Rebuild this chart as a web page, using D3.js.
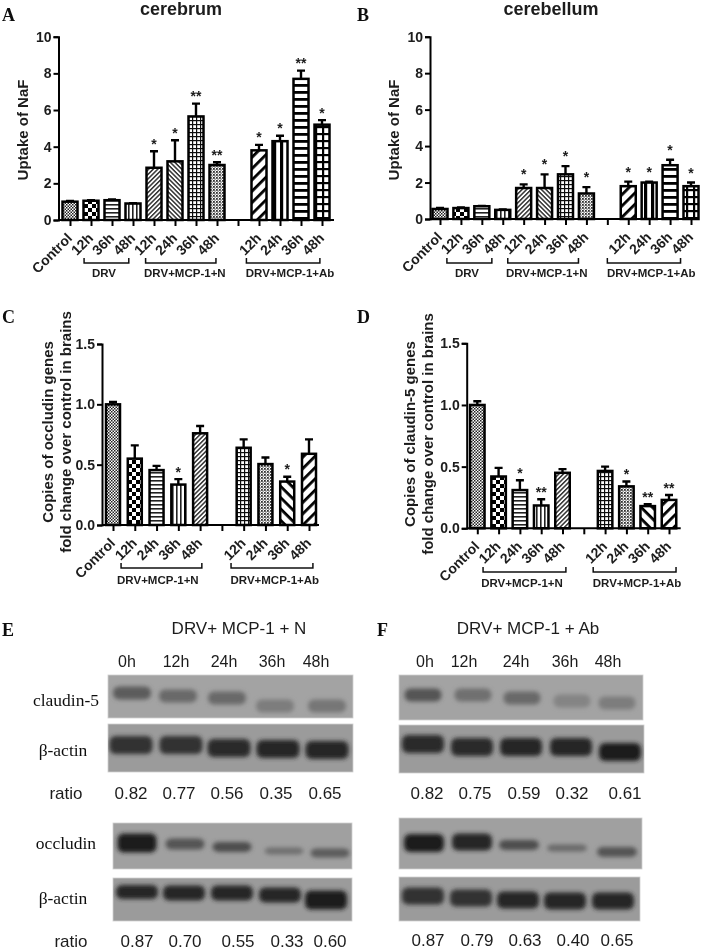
<!DOCTYPE html>
<html><head><meta charset="utf-8">
<script src="https://cdn.jsdelivr.net/npm/d3@7"></script>
<style>
html,body{margin:0;padding:0;background:#fff}
svg{display:block}
text{font-family:"Liberation Sans",Arial,sans-serif;fill:#1c1c1c}
.serif{font-family:"Liberation Serif",serif;fill:#111}
</style></head><body>
<svg id="c" width="708" height="951"></svg>
<script>
// ---------- DATA ----------
const categoriesA = ["Control","12h","36h","48h","12h","24h","36h","48h","","12h","24h","36h","48h"];
const categoriesC = ["Control","12h","24h","36h","48h","","12h","24h","36h","48h"];
const valuesA = [1.0,1.05,1.08,0.9,2.85,3.2,5.65,3.0,null,3.8,4.3,7.7,5.2];
const upperA  = [1.04,1.08,1.12,0.92,3.75,4.35,6.35,3.15,null,4.1,4.6,8.15,5.45];
const starsA  = ["","","","","*","*","**","**","","*","*","**","*"];
const valuesB = [0.55,0.6,0.7,0.5,1.7,1.7,2.45,1.4,null,1.8,2.0,2.95,1.8];
const upperB  = [0.6,0.63,0.72,0.52,1.9,2.45,2.9,1.75,null,2.05,2.05,3.25,2.0];
const starsB  = ["","","","","*","*","*","*","","*","*","*","*"];
const valuesC = [1.0,0.55,0.455,0.335,0.76,null,0.64,0.505,0.36,0.59];
const upperC  = [1.02,0.66,0.49,0.38,0.82,null,0.71,0.56,0.40,0.71];
const starsC  = ["","","","*","","","","","*",""];
const valuesD = [1.0,0.42,0.31,0.185,0.45,null,0.465,0.34,0.18,0.23];
const upperD  = [1.03,0.49,0.39,0.235,0.48,null,0.50,0.38,0.195,0.27];
const starsD  = ["","","*","**","","","","*","**","**"];
const lanes = ["0h","12h","24h","36h","48h"];
const ratioE1 = ["0.82","0.77","0.56","0.35","0.65"];
const ratioE2 = ["0.87","0.70","0.55","0.33","0.60"];
const ratioF1 = ["0.82","0.75","0.59","0.32","0.61"];
const ratioF2 = ["0.87","0.79","0.63","0.40","0.65"];
const claudinE = [.55,.45,.45,.3,.35];
const actinE1  = [.85,.85,.9,.95,.95];
const occludinE= [1,.6,.65,.4,.55];
const actinE2  = [.95,.95,.95,.95,1];
const claudinF = [.6,.4,.45,.25,.3];
const actinF1  = [.9,.9,.95,.95,1];
const occludinF= [1,.95,.65,.45,.6];
const actinF2  = [.85,.85,.95,.95,.95];

// ---------- STYLE / LAYOUT ----------
const root = d3.select("#c");
const defs = root.append("defs");
defs.append("filter").attr("id","soft").attr("filterUnits","userSpaceOnUse").attr("x",0).attr("y",0).attr("width",708).attr("height",951)
  .append("feGaussianBlur").attr("stdDeviation",0.4);
const svg = root.append("g").attr("filter","url(#soft)");
function pat(id,w,h,draw,rot){
  const p = defs.append("pattern").attr("id",id).attr("patternUnits","userSpaceOnUse").attr("width",w).attr("height",h);
  if(rot) p.attr("patternTransform",`rotate(${rot})`);
  p.append("rect").attr("width",w).attr("height",h).attr("fill","#fff");
  draw(p);
}
const R=(p,x,y,w,h,f="#000")=>p.append("rect").attr("x",x).attr("y",y).attr("width",w).attr("height",h).attr("fill",f);
pat("dense",3,3,p=>{R(p,0,0,1.5,1.5,"#222");R(p,1.5,1.5,1.5,1.5,"#222");});
pat("check",8,8,p=>{R(p,0,0,4,4);R(p,4,4,4,4);});
pat("hl",4,4,p=>R(p,0,0,4,1.6,"#222"));
pat("vl",4,4,p=>R(p,0,0,1.6,4,"#222"));
pat("df",3.2,3.2,p=>R(p,0,0,3.2,1.5,"#333"),-45);
pat("db",3.2,3.2,p=>R(p,0,0,3.2,1.5,"#333"),45);
pat("grid",4,4,p=>{R(p,0,0,4,1.2,"#111");R(p,0,0,1.2,4,"#111");});
pat("dots",3,3,p=>{R(p,0,0,1.8,1.8,"#333");R(p,1.5,1.5,1.2,1.2,"#444");});
pat("wdf",8,8,p=>R(p,0,0,8,2.8),-45);
pat("wdb",8,8,p=>R(p,0,0,8,2.8),45);
pat("wv",7,7,p=>R(p,0,0,3.2,7));
pat("wh",7,7,p=>R(p,0,0,7,2.8));
pat("wg",7,7,p=>{R(p,0,0,7,2.2);R(p,0,0,2.2,7);});

const patA = ["dense","check","hl","vl","df","db","grid","dots",null,"wdf","wv","wh","wg"];
const patC = ["dense","check","hl","vl","df",null,"grid","dots","wdb","wdf"];

const panels = [
 {cats:categoriesA,vals:valuesA,up:upperA,stars:starsA,pats:patA,ax:58.5,xEnd:334,x0:70,x1:322,y0:220,y1:36.7,max:10,ticks:[0,2,4,6,8,10],fmt:d3.format("d"),
  ylab:["Uptake of NaF"],ylx:[28],yly:130,starGap:2.5,barW:15,
  groups:[["DRV",.67,2.8,1.62],["DRV+MCP-1+N",3.6,6.95,5.47],["DRV+MCP-1+Ab",8.4,11.9,10.48]],brY:263,gY:277},
 {cats:categoriesA,vals:valuesB,up:upperB,stars:starsB,pats:patA,ax:430,xEnd:699,x0:440,x1:691,y0:219,y1:36.7,max:10,ticks:[0,2,4,6,8,10],fmt:d3.format("d"),
  ylab:["Uptake of NaF"],ylx:[399],yly:130,starGap:5,barW:15,
  groups:[["DRV",.33,2.48,1.29],["DRV+MCP-1+N",3.24,6.62,5.1],["DRV+MCP-1+Ab",8,11.5,10.1]],brY:263,gY:277},
 {cats:categoriesC,vals:valuesC,up:upperC,stars:starsC,pats:patC,ax:102,xEnd:319,x0:113,x1:309,y0:525,y1:344,max:1.5,ticks:[0,.5,1,1.5],fmt:d3.format(".1f"),
  ylab:["Copies of occludin genes","fold change over control in brains"],ylx:[53,71],yly:432,starGap:2.5,barW:14,
  groups:[["DRV+MCP-1+N",.37,4.08,2.06],["DRV+MCP-1+Ab",5.42,9.18,7.43]],brY:568,gY:584},
 {cats:categoriesC,vals:valuesD,up:upperD,stars:starsD,pats:patC,ax:466.7,xEnd:680.7,x0:477.3,x1:669,y0:528.3,y1:343.3,max:1.5,ticks:[0,.5,1,1.5],fmt:d3.format(".1f"),
  ylab:["Copies of claudin-5 genes","fold change over control in brains"],ylx:[415,433],yly:434,starGap:2.5,barW:14.5,
  groups:[["DRV+MCP-1+N",.27,4.16,2.1],["DRV+MCP-1+Ab",5.44,9.33,7.5]],brY:572,gY:587}
];

panels.forEach(P=>{
  const n=P.cats.length, idx=d3.range(n);
  const x=d3.scalePoint().domain(idx).range([P.x0,P.x1]);
  const xi=d3.scaleLinear().domain([0,n-1]).range([P.x0,P.x1]);
  const y=d3.scaleLinear().domain([0,P.max]).range([P.y0,P.y1]);
  const g=svg.append("g");
  const B=idx.filter(i=>P.vals[i]!=null);
  g.selectAll(".bar").data(B).join("rect").attr("x",i=>x(i)-P.barW/2).attr("width",P.barW)
    .attr("y",i=>y(P.vals[i])).attr("height",i=>y(0)-y(P.vals[i]))
    .attr("fill",i=>`url(#${P.pats[i]})`).attr("stroke","#000").attr("stroke-width",2.5);
  g.selectAll(".err").data(B).join("path")
    .attr("d",i=>`M${x(i)},${y(P.vals[i])}V${y(P.up[i])}M${x(i)-4},${y(P.up[i])}H${x(i)+4}`)
    .attr("stroke","#000").attr("stroke-width",2.4).attr("fill","none");
  g.selectAll(".star").data(B.filter(i=>P.stars[i])).join("text").attr("x",i=>x(i)).attr("y",i=>y(P.up[i])-P.starGap)
    .attr("text-anchor","middle").attr("font-size",14).attr("font-weight","bold").text(i=>P.stars[i]);
  // axes
  const ya=g.append("g").attr("transform",`translate(${P.ax},0)`)
    .call(d3.axisLeft(y).tickValues(P.ticks).tickFormat(P.fmt).tickSize(5).tickPadding(2));
  ya.selectAll("line,path").attr("stroke","#000").attr("stroke-width",2);
  ya.selectAll("text").attr("font-size",14).attr("font-weight","bold").attr("fill","#1c1c1c");
  const xa=g.append("g").attr("transform",`translate(0,${P.y0})`)
    .call(d3.axisBottom(x).tickFormat(()=>"").tickSize(6));
  xa.select("path").attr("d",`M${P.ax},0H${P.xEnd}`).attr("stroke","#000").attr("stroke-width",2);
  xa.selectAll("line").attr("stroke","#000").attr("stroke-width",2);
  g.selectAll(".cat").data(idx.filter(i=>P.cats[i])).join("text")
    .attr("transform",i=>`translate(${x(i)+3},${P.y0+19}) rotate(-45)`)
    .attr("text-anchor","end").attr("font-size",14).attr("font-weight","bold").text(i=>P.cats[i]);
  P.ylab.forEach((t,k)=>g.append("text").attr("transform",`translate(${P.ylx[k]},${P.yly}) rotate(-90)`)
    .attr("text-anchor","middle").attr("font-size",15).attr("font-weight","bold").text(t));
  P.groups.forEach(([t,a,b,c])=>{
    g.append("path").attr("d",`M${xi(a)},${P.brY-5}V${P.brY}H${xi(b)}V${P.brY-5}`).attr("fill","none").attr("stroke","#111").attr("stroke-width",1.5);
    g.append("text").attr("x",xi(c)).attr("y",P.gY).attr("text-anchor","middle").attr("font-size",11.5).attr("font-weight","bold").attr("fill","#2a2a2a").text(t);
  });
});

// titles & panel letters
[["cerebrum",181,15],["cerebellum",551,15]].forEach(([t,a,b])=>svg.append("text").attr("x",a).attr("y",b).attr("text-anchor","middle").attr("font-size",18).attr("font-weight","bold").text(t));
[["A",2,21],["B",357,21],["C",2,323],["D",357,323],["E",2,636],["F",377,636]].forEach(([t,a,b])=>svg.append("text").attr("class","serif").attr("x",a).attr("y",b).attr("font-size",18).attr("font-weight","bold").text(t));

// blots
const gray=d3.interpolateRgb("#a6a6a6","#1e1e1e");
defs.append("filter").attr("id","blur").attr("x","-30%").attr("y","-60%").attr("width","160%").attr("height","220%")
  .append("feGaussianBlur").attr("stdDeviation",2);
const blots=[
 {v:claudinE,bg:"#a3a3a3",x:108,w:245,y:675,h:43,cx:[132,178,227,275,327],cy:[693,696,698,706,706],bw:38,bh:13},
 {v:actinE1,bg:"#9b9b9b",x:108,w:245,y:724,h:48,cx:[131,181,229,278,327],cy:[745,745,748,749,750],bw:43,bh:18},
 {v:occludinE,bg:"#a0a0a0",x:113,w:239,y:823,h:46,cx:[137,185,232,284,330],cy:[843,844,847,851,853],bw:39,bh:9,bhs:[19,11,10,7,9]},
 {v:actinE2,bg:"#9b9b9b",x:113,w:239,y:878,h:43,cx:[137,184,232,280,326],cy:[892,893,893,895,900],bw:42,bh:14,bhs:[14,15,15,15,19]},
 {v:claudinF,bg:"#a3a3a3",x:399,w:244,y:675,h:45,cx:[423,473,522,572,617],cy:[695,695,698,701,703],bw:37,bh:13},
 {v:actinF1,bg:"#9b9b9b",x:399,w:245,y:725,h:48,cx:[423,472,521,571,620],cy:[744,747,747,747,752],bw:42,bh:18},
 {v:occludinF,bg:"#a0a0a0",x:399,w:243,y:818,h:51,cx:[424,472,519,567,617],cy:[843,842,845,848,852],bw:40,bh:9,bhs:[18,17,10,7,10]},
 {v:actinF2,bg:"#9b9b9b",x:399,w:241,y:877,h:44,cx:[423,471,518,565,613],cy:[896,898,900,901,901],bw:42,bh:17}
];
blots.forEach(b=>{
  const g=svg.append("g");
  g.append("rect").attr("x",b.x).attr("y",b.y).attr("width",b.w).attr("height",b.h).attr("fill",b.bg).attr("stroke","#cfcfcf").attr("stroke-width",.8);
  const cp="cp"+b.x+"_"+b.y;
  defs.append("clipPath").attr("id",cp).append("rect").attr("x",b.x).attr("y",b.y).attr("width",b.w).attr("height",b.h);
  g.append("g").attr("clip-path",`url(#${cp})`).selectAll("rect").data(b.v).join("rect")
    .attr("x",(d,i)=>b.cx[i]-b.bw/2).attr("width",b.bw)
    .attr("y",(d,i)=>b.cy[i]-(b.bhs?b.bhs[i]:b.bh)/2).attr("height",(d,i)=>b.bhs?b.bhs[i]:b.bh)
    .attr("rx",6).attr("fill",d=>gray(d)).attr("filter","url(#blur)");
});
const T=(t,x,y,fs,cls)=>svg.append("text").attr("x",x).attr("y",y).attr("text-anchor","middle").attr("font-size",fs).attr("class",cls||null).text(t);
T("DRV+ MCP-1 + N",239,634,17);
T("DRV+ MCP-1 + Ab",528,634,17);
lanes.forEach((l,i)=>{T(l,[127,176,224,272,316][i],667,16);T(l,[425,464,516,565,608][i],667,16);});
[["claudin-5",66,706],["β-actin",63,756],["occludin",66,849],["β-actin",63,904]].forEach(d=>T(d[0],d[1],d[2],17.5,"serif"));
T("ratio",66,799,17);T("ratio",71,947,17);
const rows=[[ratioE1,[131,179,227,276,325],799],[ratioE2,[137,185,238,287,330],947],[ratioF1,[427,475,524,572,625],799],[ratioF2,[428,477,525,573,617],946]];
rows.forEach(([r,xs,y])=>r.forEach((t,i)=>T(t,xs[i],y,17)));
</script>
</body></html>
